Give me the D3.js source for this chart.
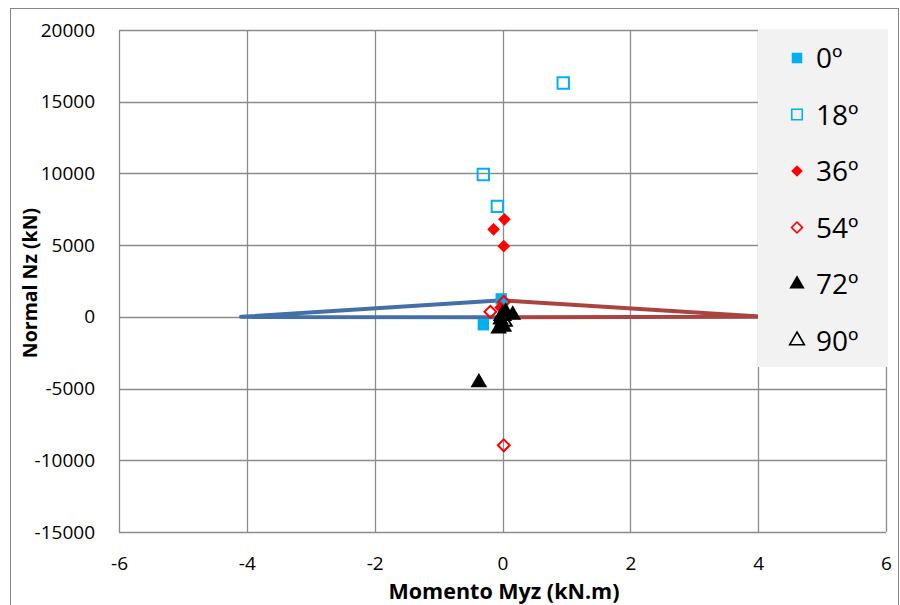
<!DOCTYPE html>
<html><head><meta charset="utf-8">
<script src="https://cdn.jsdelivr.net/npm/d3@7"></script>
<style>
body{margin:0;background:#fff;}
svg{display:block;font-family:"Open Sans","Liberation Sans",sans-serif;}
</style></head>
<body><svg id="c" width="900" height="605"></svg>
<script>
const xTicks = [-6,-4,-2,0,2,4,6];
const yTicks = [-15000,-10000,-5000,0,5000,10000,15000,20000];
const legendLabels = ["0º","18º","36º","54º","72º","90º"];

const blueLineX = [0, -4.09, 0];
const blueLineY = [1150, 0, -30];
const redLineX = [0, 4.1, 0];
const redLineY = [1150, 0, -30];

const s0X = [-0.02, 0.0, -0.3];
const s0Y = [1250, 900, -550];
const s18X = [0.95, -0.3, -0.08];
const s18Y = [16300, 9930, 7700];
const s36X = [0.03, -0.14, 0.02, -0.03];
const s36Y = [6800, 6100, 4930, 650];
const s54X = [0.02, -0.19, 0.02];
const s54Y = [1040, 350, -8960];
const s72X = [-0.37, 0.16, 0.05, -0.03, 0.02, -0.06];
const s72Y = [-4580, 140, 350, -200, -700, -830];
const s90X = [0.0, 0.02];
const s90Y = [100, -300];

const svg = d3.select("#c");
const W = 900, H = 605;
const L = 119, R = 886, T = 30, B = 532;
const x = d3.scaleLinear().domain([-6,6]).range([L,R]);
const y = d3.scaleLinear().domain([-15000,20000]).range([B,T]);

// outer chart border
svg.append("rect").attr("x",10.5).attr("y",8.5).attr("width",W-12).attr("height",H-4)
  .attr("fill","#fff").attr("stroke","#868686").attr("stroke-width",1);

// grid
const grid = svg.append("g");
grid.selectAll(".gx").data(xTicks).join("line")
  .attr("x1",d=>Math.round(x(d))+0.5).attr("x2",d=>Math.round(x(d))+0.5)
  .attr("y1",T).attr("y2",B).attr("stroke","#8c8c8c").attr("stroke-width",1.3);
grid.selectAll(".gy").data(yTicks).join("line")
  .attr("y1",d=>Math.round(y(d))+0.5).attr("y2",d=>Math.round(y(d))+0.5)
  .attr("x1",L).attr("x2",R).attr("stroke","#8c8c8c").attr("stroke-width",1.3);

const fmt = d => String(d);
// axes labels
const xAxis = d3.axisBottom(x).tickValues(xTicks).tickSize(0).tickPadding(25).tickFormat(fmt);
const gx = svg.append("g").attr("transform",`translate(0,${B})`).call(xAxis);
gx.select(".domain").remove();
gx.selectAll("text").attr("font-size",19).attr("fill","#000").attr("font-family","'Open Sans',sans-serif");

const yAxis = d3.axisLeft(y).tickValues(yTicks).tickSize(0).tickPadding(24).tickFormat(fmt);
const gy = svg.append("g").attr("transform",`translate(${L},0)`).call(yAxis);
gy.select(".domain").remove();
gy.selectAll("text").attr("font-size",19).attr("fill","#000").attr("font-family","'Open Sans',sans-serif");

// axis titles
svg.append("text").attr("x",504).attr("y",599).attr("text-anchor","middle")
  .attr("font-size",21.5).attr("font-weight","bold").text("Momento Myz (kN.m)");
svg.append("text").attr("transform","translate(37,283) rotate(-90)").attr("text-anchor","middle")
  .attr("font-size",19.5).attr("font-weight","bold").text("Normal Nz (kN)");

// lines
const line = d3.line().x(d=>x(d[0])).y(d=>y(d[1]));
const plot = svg.append("g");
plot.append("path").datum(redLineX.map((v,i)=>[v,redLineY[i]])).attr("d",line)
  .attr("fill","none").attr("stroke","#a94441").attr("stroke-width",4).attr("stroke-linejoin","round").attr("stroke-linecap","round");
plot.append("path").datum(blueLineX.map((v,i)=>[v,blueLineY[i]])).attr("d",line)
  .attr("fill","none").attr("stroke","#4470a8").attr("stroke-width",4).attr("stroke-linejoin","round").attr("stroke-linecap","round");

const cyan = "#00b0f0", red = "#ff0000", black = "#000";
const styles = [
  {type:d3.symbolSquare, size:130, fill:cyan, stroke:"none", rot:0},
  {type:d3.symbolSquare, size:130, fill:"none", stroke:cyan, rot:0},
  {type:d3.symbolSquare, size:80, fill:red, stroke:"none", rot:45},
  {type:d3.symbolSquare, size:70, fill:"none", stroke:red, rot:45},
  {type:d3.symbolTriangle, size:120, fill:black, stroke:"none", rot:0},
  {type:d3.symbolTriangle, size:110, fill:"none", stroke:black, rot:0},
];
const series = [[s0X,s0Y],[s18X,s18Y],[s36X,s36Y],[s54X,s54Y],[s72X,s72Y],[s90X,s90Y]];
series.forEach((s,i)=>{
  const st = styles[i];
  const pts = s[0].map((v,j)=>[v,s[1][j]]);
  plot.selectAll(null).data(pts).join("path")
    .attr("transform",d=>`translate(${x(d[0])},${y(d[1])}) rotate(${st.rot})`)
    .attr("d",d3.symbol().type(st.type).size(st.size))
    .attr("fill",st.fill).attr("stroke",st.stroke).attr("stroke-width",2);
});

// legend
const lg = svg.append("g");
lg.append("rect").attr("x",758).attr("y",29).attr("width",130).attr("height",338).attr("fill","#f2f2f2");
legendLabels.forEach((t,i)=>{
  const cy = 58 + i*56.5;
  const st = styles[i];
  lg.append("path").attr("transform",`translate(797,${cy}) rotate(${st.rot})`)
    .attr("d",d3.symbol().type(st.type).size(st.size*0.85))
    .attr("fill",st.fill).attr("stroke",st.stroke).attr("stroke-width",1.6);
  lg.append("text").attr("x",816).attr("y",cy+10).attr("font-size",28).attr("fill","#000").text(t);
});
</script></body></html>
